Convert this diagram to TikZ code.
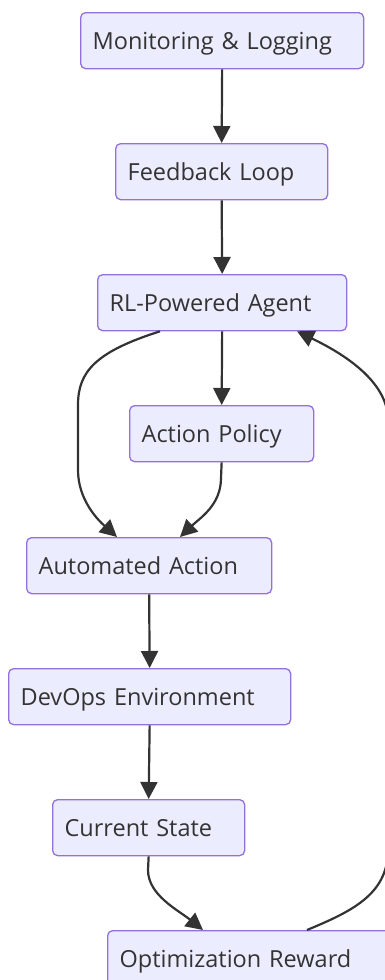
\documentclass[tikz,border=0pt]{standalone}
\usepackage{fontspec}
\setmainfont{Open Sans}
\usetikzlibrary{arrows.meta}
\definecolor{nodefill}{HTML}{ECECFF}
\definecolor{nodeline}{HTML}{9370DB}
\definecolor{ink}{HTML}{333333}
\tikzset{
  box/.style={draw=nodeline, fill=nodefill, line width=1.3pt, rounded corners=5pt,
    anchor=north west, minimum height=56pt, inner xsep=12pt, inner ysep=0pt,
    text height=22pt, text depth=4pt,
    align=left, text=ink, font=\fontsize{23.5}{28}\selectfont},
  flow/.style={draw=ink, line width=2.2pt, -{Triangle[length=17pt,width=17pt]}},
}
\begin{document}
\begin{tikzpicture}[x=1pt, y=-1pt]
  \useasboundingbox (0,0) rectangle (384,980);

  % process nodes
  \node[box, text width=259pt] (mon) at (80,12)  {Monitoring \& Logging};
  \node[box, text width=188pt] (fb)  at (115,143) {Feedback Loop};
  \node[box, text width=225pt] (rl)  at (97,274)  {RL-Powered Agent};
  \node[box, text width=160pt] (ap)  at (129,405) {Action Policy};
  \node[box, text width=221pt] (aa)  at (26,537)  {Automated Action};
  \node[box, text width=258pt] (dev) at (8,668)   {DevOps Environment};
  \node[box, text width=168pt] (cs)  at (52,799)  {Current State};
  \node[box, text width=266pt] (opt) at (107,930) {Optimization Reward};

  % straight links
  \draw[flow] (mon.south) -- (fb.north);
  \draw[flow] (fb.south) -- (rl.north);
  \draw[flow] (rl.south) -- (ap.north);
  \draw[flow] (aa.south) -- (dev.north);
  \draw[flow] (dev.south) -- (cs.north);

  % curved links
  \draw[flow] ([xshift=63pt]rl.south west) .. controls (95,352) and (78,372) .. (78,405)
    -- (78,470) .. controls (78,500) and (98,520) .. ([xshift=91pt]aa.north west);
  \draw[flow] (ap.south) -- (221,478) .. controls (221,505) and (200,518) .. ([xshift=154pt]aa.north west);
  \draw[flow] (cs.south) -- (148,870) .. controls (148,895) and (178,910) .. ([xshift=96pt]opt.north west);
  \draw[flow] ([xshift=200pt]opt.north west) .. controls (350,912) and (388,895) .. (388,850)
    -- (388,420) .. controls (388,380) and (340,352) .. ([xshift=200pt]rl.south west);
\end{tikzpicture}
\end{document}
